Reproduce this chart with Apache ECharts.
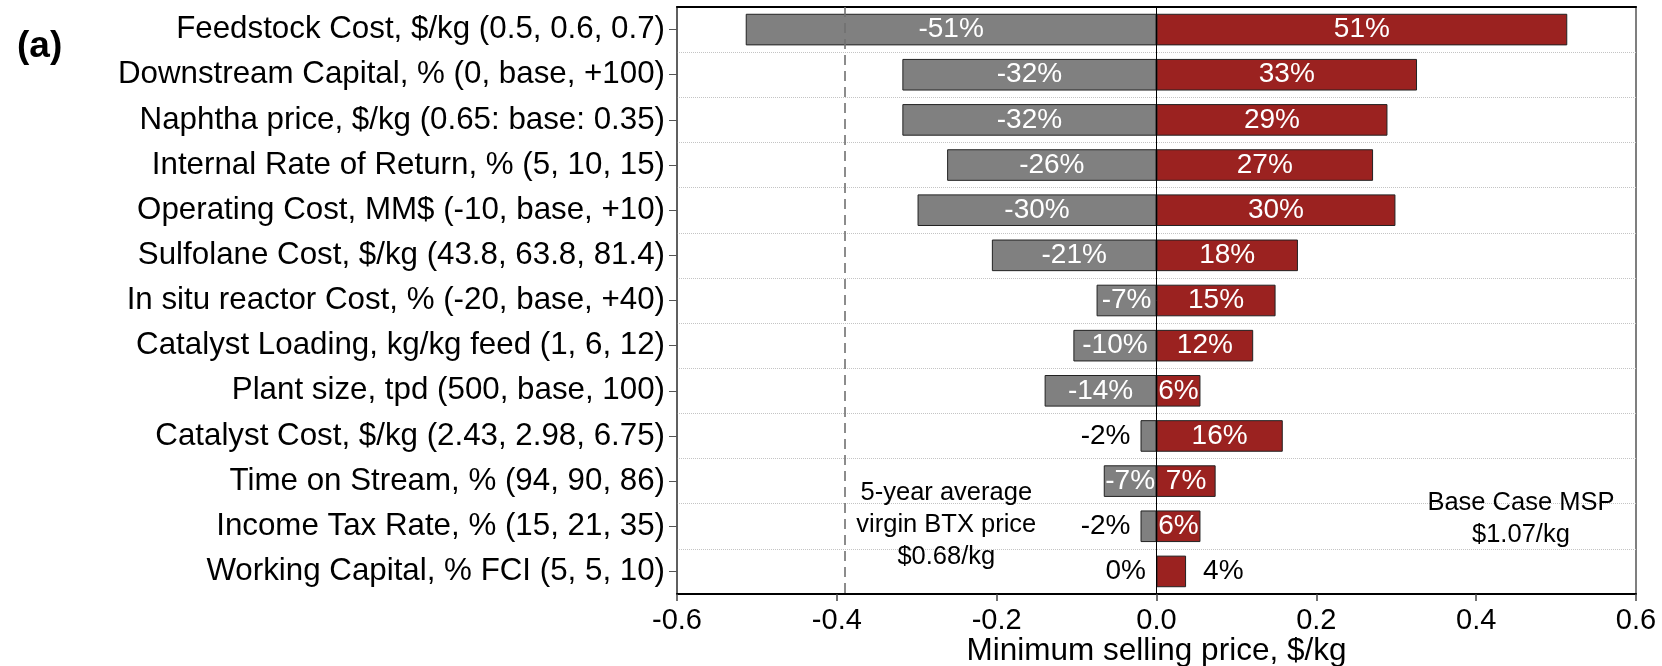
<!DOCTYPE html>
<html>
<head>
<meta charset="utf-8">
<script src="https://cdn.jsdelivr.net/npm/echarts@6/dist/echarts.min.js"></script>
<style>
  html, body { margin: 0; padding: 0; background: #fff; }
  #chart { width: 1662px; height: 666px; }
</style>
</head>
<body>
<div id="chart"></div>
<script>
// Sensitivity parameters (top to bottom)
const categories = [
  'Feedstock Cost, $/kg (0.5, 0.6, 0.7)',
  'Downstream Capital, % (0, base, +100)',
  'Naphtha price, $/kg (0.65: base: 0.35)',
  'Internal Rate of Return, % (5, 10, 15)',
  'Operating Cost, MM$ (-10, base, +10)',
  'Sulfolane Cost, $/kg (43.8, 63.8, 81.4)',
  'In situ reactor Cost, % (-20, base, +40)',
  'Catalyst Loading, kg/kg feed (1, 6, 12)',
  'Plant size, tpd (500, base, 100)',
  'Catalyst Cost, $/kg (2.43, 2.98, 6.75)',
  'Time on Stream, % (94, 90, 86)',
  'Income Tax Rate, % (15, 21, 35)',
  'Working Capital, % FCI (5, 5, 10)'
];

// Change in minimum selling price, $/kg
const lowValues  = [-0.514, -0.318, -0.318, -0.262, -0.299, -0.206, -0.075, -0.104, -0.140, -0.020, -0.066, -0.020, 0];
const highValues = [ 0.514,  0.326,  0.289,  0.271,  0.299,  0.177,  0.149,  0.121,  0.055,  0.158,  0.074,  0.055, 0.037];

// Relative change labels
const lowLabels  = ['-51%', '-32%', '-32%', '-26%', '-30%', '-21%', '-7%', '-10%', '-14%', '-2%', '-7%', '-2%', '0%'];
const highLabels = ['51%', '33%', '29%', '27%', '30%', '18%', '15%', '12%', '6%', '16%', '7%', '6%', '4%'];

const xTicks = [-0.6, -0.4, -0.2, 0.0, 0.2, 0.4, 0.6];

const baseMSP = 1.07;      // $/kg
const virginBTX = 0.68;    // $/kg, 5-year average

const FONT = "'Liberation Sans', Arial, Helvetica, sans-serif";
const GRAY = '#808080';
const RED = '#9b2220';
const SMALL = 0.05;        // bars narrower than this get their label outside

const chart = echarts.init(document.getElementById('chart'), null, { renderer: 'canvas' });

function items(values, side) {
  return values.map(v => {
    const item = { value: v };
    if (Math.abs(v) < SMALL) {
      item.label = side === 'low'
        ? { position: 'left', color: '#000', distance: 10 }
        : { position: 'right', color: '#000', distance: 17 };
    }
    return item;
  });
}

const barLabel = {
  show: true,
  position: 'inside',
  color: '#fff',
  fontFamily: FONT,
  fontSize: 28
};

chart.setOption({
  animation: false,
  backgroundColor: '#fff',
  title: {
    text: '(a)',
    left: 12,
    top: 23,
    textStyle: { fontFamily: FONT, fontSize: 37, fontWeight: 'bold', color: '#000' }
  },
  grid: {
    left: 677, right: 26, top: 7, bottom: 72,
    outerBoundsMode: 'none',
    containLabel: false,
    show: true,
    borderColor: '#555',
    borderWidth: 1.5
  },
  xAxis: [{
    type: 'value',
    position: 'bottom',
    min: xTicks[0],
    max: xTicks[xTicks.length - 1],
    interval: 0.2,
    name: 'Minimum selling price, $/kg',
    nameLocation: 'middle',
    nameGap: 41.5,
    nameMoveOverlap: false,
    nameTextStyle: { fontFamily: FONT, fontSize: 31.5, color: '#000' },
    axisLine: { show: true, lineStyle: { color: '#000', width: 2 } },
    axisTick: { show: true, inside: false, length: 7, lineStyle: { color: '#444', width: 1.5 } },
    axisLabel: {
      fontFamily: FONT, fontSize: 29, color: '#000', margin: 12,
      formatter: v => (Math.abs(v) < 1e-9 ? 0 : v).toFixed(1)
    },
    splitLine: { show: false }
  }, {
    type: 'value',
    position: 'top',
    min: xTicks[0],
    max: xTicks[xTicks.length - 1],
    interval: 0.2,
    axisLine: { show: true, lineStyle: { color: '#000', width: 2 } },
    axisTick: { show: false },
    axisLabel: { show: false },
    splitLine: { show: false }
  }],
  yAxis: {
    type: 'category',
    data: categories,
    inverse: true,
    axisLine: { show: true, onZero: false, lineStyle: { color: '#555', width: 1.5 } },
    axisTick: { show: true, alignWithLabel: true, length: 8, lineStyle: { color: '#555', width: 1 } },
    axisLabel: { fontFamily: FONT, fontSize: 31.3, color: '#000', margin: 12 },
    splitLine: { show: true, lineStyle: { color: '#c4c4c4', type: 'dotted', width: 1 } }
  },
  series: [{
    name: 'low',
    type: 'bar',
    xAxisIndex: 0,
    data: items(lowValues, 'low'),
    barWidth: '70%',
    barGap: '-100%',
    itemStyle: { color: GRAY, borderColor: '#222', borderWidth: 1 },
    label: Object.assign({}, barLabel, { formatter: p => lowLabels[p.dataIndex] }),
    markLine: {
      silent: true,
      symbol: 'none',
      label: { show: false },
      data: [
        { xAxis: 0, lineStyle: { color: '#000', width: 1, type: 'solid' } },
        { xAxis: +(virginBTX - baseMSP).toFixed(2), lineStyle: { color: '#707070', width: 1.6, type: [10, 6] } }
      ]
    },
    z: 3
  }, {
    name: 'high',
    type: 'bar',
    xAxisIndex: 0,
    data: items(highValues, 'high'),
    barWidth: '70%',
    barGap: '-100%',
    itemStyle: { color: RED, borderColor: '#222', borderWidth: 1 },
    label: Object.assign({}, barLabel, { formatter: p => highLabels[p.dataIndex] }),
    z: 3
  }]
});

// Text notes placed through the axes' own scales
function rowY(pos) {
  const i = Math.floor(pos), f = pos - i;
  const a = chart.convertToPixel({ yAxisIndex: 0 }, categories[i]);
  const b = chart.convertToPixel({ yAxisIndex: 0 }, categories[Math.min(i + 1, categories.length - 1)]);
  return a + (b - a) * f;
}
const noteStyle = { fontFamily: FONT, fontSize: 25.5, fill: '#000', align: 'center', verticalAlign: 'middle', lineHeight: 32 };
chart.setOption({
  graphic: [{
    type: 'text',
    x: chart.convertToPixel({ xAxisIndex: 0 }, -0.263),
    y: rowY(10.98),
    style: Object.assign({ text: '5-year average\nvirgin BTX price\n$' + virginBTX.toFixed(2) + '/kg' }, noteStyle)
  }, {
    type: 'text',
    x: chart.convertToPixel({ xAxisIndex: 0 }, 0.456),
    y: rowY(10.84),
    style: Object.assign({ text: 'Base Case MSP\n$' + baseMSP.toFixed(2) + '/kg' }, noteStyle)
  }]
});
</script>
</body>
</html>
